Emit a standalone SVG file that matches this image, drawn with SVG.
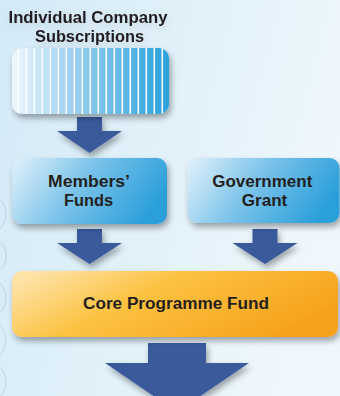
<svg xmlns="http://www.w3.org/2000/svg" width="340" height="396" viewBox="0 0 340 396">
  <defs>
    <linearGradient id="bg" x1="0" y1="0" x2="1" y2="0.3">
      <stop offset="0" stop-color="#d3eaf7"/>
      <stop offset="0.6" stop-color="#e3f2fa"/>
      <stop offset="1" stop-color="#eef7fc"/>
    </linearGradient>
    <linearGradient id="blueStripe" x1="0" y1="0" x2="1" y2="0">
      <stop offset="0" stop-color="#eef7fc"/>
      <stop offset="0.35" stop-color="#a3d3f0"/>
      <stop offset="1" stop-color="#2aa2dc"/>
    </linearGradient>
    <linearGradient id="blueBox" x1="0" y1="0.2" x2="1" y2="0.5">
      <stop offset="0" stop-color="#d8edf9"/>
      <stop offset="0.45" stop-color="#7cc3ea"/>
      <stop offset="1" stop-color="#2a9fda"/>
    </linearGradient>
    <linearGradient id="orangeBox" x1="0" y1="0.2" x2="1" y2="0.6">
      <stop offset="0" stop-color="#fee3a6"/>
      <stop offset="0.4" stop-color="#fcc240"/>
      <stop offset="1" stop-color="#f6a11c"/>
    </linearGradient>
    <filter id="shadow" x="-20%" y="-30%" width="140%" height="170%">
      <feGaussianBlur in="SourceAlpha" stdDeviation="3"/>
      <feOffset dx="2" dy="4" result="b"/>
      <feComponentTransfer><feFuncA type="linear" slope="0.35"/></feComponentTransfer>
      <feMerge><feMergeNode/><feMergeNode in="SourceGraphic"/></feMerge>
    </filter>
    <filter id="textGlow" x="-20%" y="-50%" width="140%" height="200%">
      <feGaussianBlur in="SourceAlpha" stdDeviation="4"/>
      <feOffset dx="2" dy="3"/>
      <feComponentTransfer><feFuncA type="linear" slope="0.12"/></feComponentTransfer>
      <feMerge><feMergeNode/><feMergeNode in="SourceGraphic"/></feMerge>
    </filter>
    <clipPath id="clipTop">
      <rect x="12" y="48" width="157" height="66" rx="10"/>
    </clipPath>
    <style>
      .lbl { font-family: "Liberation Sans", Arial, sans-serif; font-weight: bold; font-size: 16px; fill: #231f20; text-anchor: middle; }
      .arrow { fill: #3a5a9c; }
      .stripe { stroke: #ffffff; stroke-width: 1.5; }
      .deco { fill: none; stroke: #bcd5e4; stroke-width: 1; }
    </style>
  </defs>

  <rect x="0" y="0" width="340" height="396" fill="url(#bg)"/>

  <g id="decor">
    <circle class="deco" cx="-15" cy="214" r="21"/>
    <circle class="deco" cx="-15" cy="256" r="21"/>
    <circle class="deco" cx="-15" cy="298" r="21"/>
    <circle class="deco" cx="-15" cy="340" r="21"/>
    <circle class="deco" cx="-15" cy="382" r="21"/>
  </g>

  <g id="connectors" filter="url(#shadow)">
    <polygon class="arrow" points="77,117 102,117 102,131 122,131 89.5,153 57,131 77,131"/>
    <polygon class="arrow" points="77,229 102,229 102,243 122,243 89.5,264 57,243 77,243"/>
    <polygon class="arrow" points="252.5,229 277.5,229 277.5,243 297.5,243 265,264 232.5,243 252.5,243"/>
    <polygon class="arrow" points="148,343 206,343 206,363 249,363 177,412 105,363 148,363"/>
  </g>

  <g id="subscriptions">
    <text class="lbl" x="88" y="22.7" textLength="159" lengthAdjust="spacingAndGlyphs" filter="url(#textGlow)">Individual Company</text>
    <text class="lbl" x="89.5" y="41.7" textLength="109" lengthAdjust="spacingAndGlyphs" filter="url(#textGlow)">Subscriptions</text>
    <g filter="url(#shadow)">
      <rect x="12" y="48" width="157" height="66" rx="10" fill="url(#blueStripe)"/>
    </g>
    <g clip-path="url(#clipTop)">
      <line class="stripe" x1="18.3" y1="48" x2="18.3" y2="114"/>
      <line class="stripe" x1="26.3" y1="48" x2="26.3" y2="114"/>
      <line class="stripe" x1="34.3" y1="48" x2="34.3" y2="114"/>
      <line class="stripe" x1="42.3" y1="48" x2="42.3" y2="114"/>
      <line class="stripe" x1="50.3" y1="48" x2="50.3" y2="114"/>
      <line class="stripe" x1="58.3" y1="48" x2="58.3" y2="114"/>
      <line class="stripe" x1="66.3" y1="48" x2="66.3" y2="114"/>
      <line class="stripe" x1="74.3" y1="48" x2="74.3" y2="114"/>
      <line class="stripe" x1="82.3" y1="48" x2="82.3" y2="114"/>
      <line class="stripe" x1="90.3" y1="48" x2="90.3" y2="114"/>
      <line class="stripe" x1="98.3" y1="48" x2="98.3" y2="114"/>
      <line class="stripe" x1="106.3" y1="48" x2="106.3" y2="114"/>
      <line class="stripe" x1="114.3" y1="48" x2="114.3" y2="114"/>
      <line class="stripe" x1="122.3" y1="48" x2="122.3" y2="114"/>
      <line class="stripe" x1="130.3" y1="48" x2="130.3" y2="114"/>
      <line class="stripe" x1="138.3" y1="48" x2="138.3" y2="114"/>
      <line class="stripe" x1="146.3" y1="48" x2="146.3" y2="114"/>
      <line class="stripe" x1="154.3" y1="48" x2="154.3" y2="114"/>
      <line class="stripe" x1="162.3" y1="48" x2="162.3" y2="114"/>
    </g>
  </g>

  <g id="members-funds">
    <rect x="12" y="158" width="155" height="66" rx="10" fill="url(#blueBox)" filter="url(#shadow)"/>
    <text class="lbl" x="89" y="187" textLength="82" lengthAdjust="spacingAndGlyphs">Members’</text>
    <text class="lbl" x="88.5" y="206" textLength="49" lengthAdjust="spacingAndGlyphs">Funds</text>
  </g>

  <g id="government-grant">
    <rect x="187.5" y="158" width="152" height="65" rx="10" fill="url(#blueBox)" filter="url(#shadow)"/>
    <text class="lbl" x="262.3" y="186.7" textLength="100" lengthAdjust="spacingAndGlyphs">Government</text>
    <text class="lbl" x="264.5" y="205.7" textLength="45.6" lengthAdjust="spacingAndGlyphs">Grant</text>
  </g>

  <g id="core-programme-fund">
    <rect x="12" y="271" width="326" height="66" rx="10" fill="url(#orangeBox)" filter="url(#shadow)"/>
    <text class="lbl" x="176" y="309.3" textLength="186" lengthAdjust="spacingAndGlyphs">Core Programme Fund</text>
  </g>
</svg>
